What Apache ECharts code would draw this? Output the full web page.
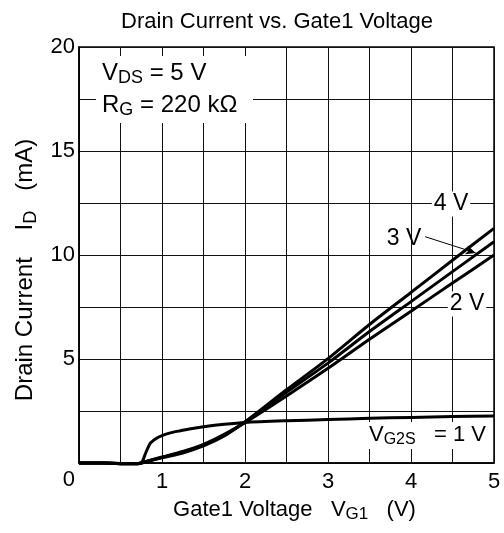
<!DOCTYPE html>
<html>
<head>
<meta charset="utf-8">
<script src="https://cdn.jsdelivr.net/npm/echarts@6/dist/echarts.min.js"></script>
<style>
html,body{margin:0;padding:0;background:#fff;}
#main{width:504px;height:533px;}
</style>
</head>
<body>
<div id="main"></div>
<script>
// ---- data ----
const xLow = [0, 0.3, 0.6, 0.7, 0.75, 0.85, 1.0, 1.25, 1.5, 1.75, 2.0, 2.5, 3.0, 3.5, 4.0, 4.5, 5.0];
const id4V = [0, 0, -0.04, -0.04, 0.0, 0.1, 0.25, 0.48, 0.82, 1.3, 1.98, 3.52, 5.02, 6.66, 8.2, 9.75, 11.28];
const id3V = [0, 0, -0.04, -0.04, 0.0, 0.11, 0.27, 0.52, 0.86, 1.34, 1.96, 3.40, 4.80, 6.32, 7.76, 9.2, 10.64];
const id2V = [0, 0, -0.04, -0.04, 0.0, 0.12, 0.29, 0.56, 0.9, 1.38, 1.94, 3.22, 4.55, 5.95, 7.3, 8.65, 10.0];
const x1V = [0, 0.3, 0.6, 0.7, 0.76, 0.8, 0.86, 0.93, 1.0, 1.1, 1.22, 1.35, 1.5, 1.75, 2.0, 2.5, 3.0, 3.5, 4.0, 4.5, 5.0];
const id1V = [0, 0, -0.03, -0.03, 0.05, 0.45, 0.95, 1.18, 1.32, 1.45, 1.55, 1.65, 1.74, 1.86, 1.95, 2.03, 2.09, 2.15, 2.19, 2.23, 2.26];
const xTickLabels = ['1', '2', '3', '4', '5'];
const yTickLabels = ['5', '10', '15', '20'];

function pairs(xs, ys) { return xs.map((x, i) => [x, ys[i]]); }

const FONT = 'Liberation Sans, Arial, sans-serif';
const chart = echarts.init(document.getElementById('main'), null, {renderer: 'canvas'});

const lineStyle = {color: '#000', width: 3};
function curve(name, data) {
  return {
    name: name, type: 'line', data: data, showSymbol: false, symbol: 'none',
    smooth: 0.25, clip: false, lineStyle: lineStyle, z: 5, animation: false
  };
}

const s3 = curve('3 V', pairs(xLow, id3V));
s3.markLine = {
  silent: true, symbol: ['none', 'arrow'], symbolSize: [7, 10], animation: false,
  lineStyle: {color: '#000', width: 1, type: 'solid'}, label: {show: false},
  data: [[{coord: [4.17, 10.88]}, {coord: [4.78, 10.1]}]]
};

const option = {
  animation: false,
  backgroundColor: '#fff',
  title: {
    text: 'Drain Current vs. Gate1 Voltage', left: 272, top: 6, textAlign: 'center',
    textStyle: {fontFamily: FONT, fontSize: 22, fontWeight: 'normal', color: '#000'}
  },
  grid: {left: 79, right: 10, top: 47, bottom: 70, show: true, borderColor: '#000', borderWidth: 1.5, backgroundColor: 'transparent'},
  xAxis: {
    type: 'value', min: 0, max: 5, interval: 0.5,
    name: '{t|Gate1 Voltage   V}{s|G1}{t|   (V)}', nameLocation: 'middle', nameGap: 34,
    nameTextStyle: {padding: [0, 0, 0, 16], rich: {
      t: {fontFamily: FONT, fontSize: 22, color: '#000'},
      s: {fontFamily: FONT, fontSize: 17, color: '#000', padding: [9, 0, 0, 0]}
    }},
    axisLine: {show: true, lineStyle: {color: '#000', width: 1.5}},
    axisTick: {show: false},
    axisLabel: {
      fontFamily: FONT, fontSize: 22, color: '#000', margin: 8,
      formatter: v => (Math.abs(v - Math.round(v)) < 1e-6 && v > 0) ? xTickLabels[Math.round(v) - 1] : ''
    },
    splitLine: {show: true, lineStyle: {color: '#111', width: 1}}
  },
  yAxis: {
    type: 'value', min: 0, max: 20, interval: 2.5,
    name: '{t|Drain Current    I}{s|D}{t|   (mA)}', nameLocation: 'middle', nameGap: 37,
    nameTextStyle: {padding: [0, 30, 0, 0], rich: {
      t: {fontFamily: FONT, fontSize: 24, color: '#000'},
      s: {fontFamily: FONT, fontSize: 18, color: '#000', padding: [10, 0, 0, 0]}
    }},
    axisLine: {show: true, lineStyle: {color: '#000', width: 1.5}},
    axisTick: {show: false},
    axisLabel: {
      fontFamily: FONT, fontSize: 22, color: '#000', margin: 4,
      formatter: v => {
        if (v === 0) return '{z|0}';
        return (v % 5 === 0) ? yTickLabels[v / 5 - 1] : '';
      },
      rich: {z: {fontFamily: FONT, fontSize: 22, color: '#000', padding: [34, 0, 0, 0]}}
    },
    splitLine: {show: true, lineStyle: {color: '#111', width: 1}}
  },
  graphic: [
    {type: 'rect', shape: {x: 96, y: 56, width: 157, height: 67}, style: {fill: '#fff'}, z: 10},
    {type: 'text', x: 102, y: 57, z: 11, style: {
      text: '{t|V}{s|DS}{t| = 5 V}\n{t|R}{s|G}{t| = 220 kΩ}', fontFamily: FONT,
      rich: {t: {fontFamily: FONT, fontSize: 24, color: '#000', lineHeight: 32},
             s: {fontFamily: FONT, fontSize: 18, color: '#000', lineHeight: 32, padding: [10, 0, 0, 0]}}
    }},
    {type: 'text', x: 451, y: 204, z: 11, style: {
      text: '4 V', fontFamily: FONT, fontSize: 23, fill: '#000', align: 'center', verticalAlign: 'middle',
      backgroundColor: '#fff', padding: [1, 2, 1, 2]
    }},
    {type: 'text', x: 404, y: 239, z: 11, style: {
      text: '3 V', fontFamily: FONT, fontSize: 23, fill: '#000', align: 'center', verticalAlign: 'middle'
    }},
    {type: 'text', x: 467, y: 304, z: 11, style: {
      text: '2 V', fontFamily: FONT, fontSize: 23, fill: '#000', align: 'center', verticalAlign: 'middle',
      backgroundColor: '#fff', padding: [1, 2, 1, 2]
    }},
    {type: 'rect', shape: {x: 366, y: 422, width: 124, height: 27}, style: {fill: '#fff'}, z: 10},
    {type: 'text', x: 369, y: 422, z: 11, style: {
      text: '{t|V}{s|G2S}{t|   = 1 V}', fontFamily: FONT,
      rich: {t: {fontFamily: FONT, fontSize: 22, color: '#000', lineHeight: 26},
             s: {fontFamily: FONT, fontSize: 16, color: '#000', lineHeight: 26, padding: [9, 0, 0, 0]}}
    }}
  ],
  series: [
    curve('4 V', pairs(xLow, id4V)),
    s3,
    curve('2 V', pairs(xLow, id2V)),
    curve('1 V', pairs(x1V, id1V))
  ]
};
chart.setOption(option);
</script>
</body>
</html>
